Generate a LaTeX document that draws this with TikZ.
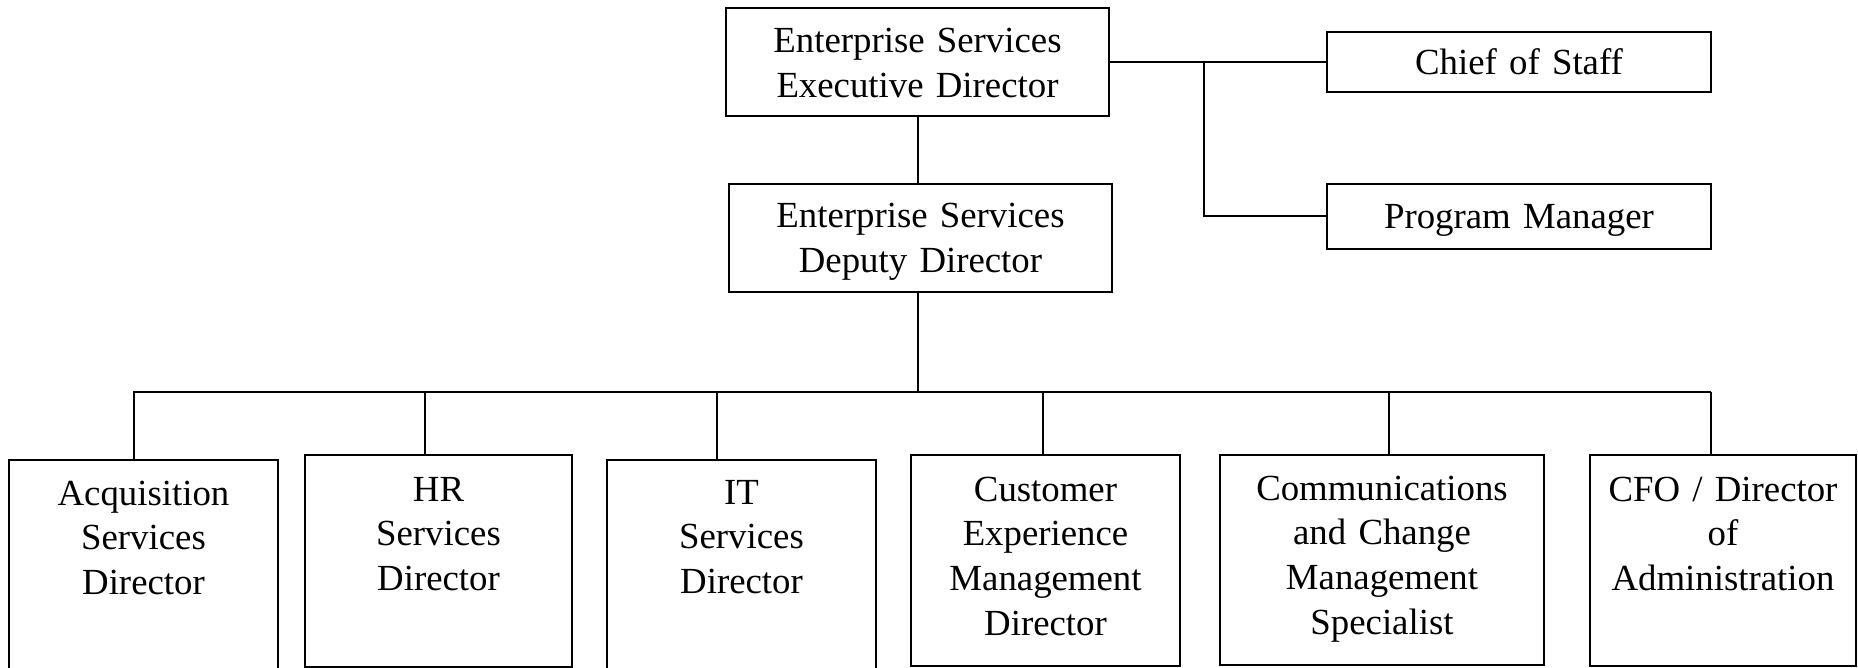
\documentclass[tikz,border=0pt]{standalone}
\usepackage{fontspec}
\setmainfont{Liberation Serif}
\begin{document}
\begin{tikzpicture}[x=0.5pt,y=-0.5pt]
\tikzset{
  box/.style={draw, line width=1pt, inner sep=0pt, outer sep=0pt, align=center,
    font=\fontsize{18.4}{22.4}\selectfont, anchor=north west},
  conn/.style={line width=1pt},
}
\useasboundingbox (0,0) rectangle (1858,668);
\clip (0,0) rectangle (1858,668);
% top
\node[box, text width=191.5pt, text height=22.5pt, text depth=31.5pt] (exec) at (726,8) {Enterprise Services\\Executive Director};
\node[box, text width=191.5pt, text height=22pt, text depth=32pt] (dep) at (729,184) {Enterprise Services\\Deputy Director};
\node[box, text width=192pt, text height=21.5pt, text depth=8.5pt] (chief) at (1327,32) {Chief of Staff};
\node[box, text width=192pt, text height=22.5pt, text depth=10pt] (pm) at (1327,184) {Program Manager};
% bottom
\node[box, text width=134.5pt, text height=22.5pt, text depth=90pt] (acq) at (9,460) {Acquisition\\Services\\Director};
\node[box, text width=133.5pt, text height=23pt, text depth=83pt] (hr) at (305,455) {HR\\Services\\Director};
\node[box, text width=134.5pt, text height=22pt, text depth=90pt] (it) at (607,460) {IT\\Services\\Director};
\node[box, text width=134.5pt, text height=23pt, text depth=82.5pt] (cx) at (911,455) {Customer\\Experience\\Management\\Director};
\node[box, text width=162pt, text height=22.5pt, text depth=82.5pt] (comm) at (1220,455) {Communications\\and Change\\Management\\Specialist};
\node[box, text width=133pt, text height=23pt, text depth=82.5pt] (cfo) at (1590,455) {CFO / Director\\of\\Administration};
% connectors
\draw[conn] (exec.south) -- (exec.south |- dep.north);
\draw[conn] (exec.east) -- (chief.west);
\coordinate (br) at (1204,62);
\draw[conn] (br) |- (pm.west);
\coordinate (bus) at (918,392);
\draw[conn] (bus |- dep.south) -- (bus);
\coordinate (busL) at (133,392);
\coordinate (busR) at (1711,392);
\draw[conn] (busL) -- (busR);
\coordinate (dA) at (134,392);
\coordinate (dH) at (425,392);
\coordinate (dI) at (717,392);
\coordinate (dC) at (1043,392);
\coordinate (dM) at (1389,392);
\coordinate (dF) at (1711,392);
\draw[conn] (dA) -- (dA |- acq.north);
\draw[conn] (dH) -- (dH |- hr.north);
\draw[conn] (dI) -- (dI |- it.north);
\draw[conn] (dC) -- (dC |- cx.north);
\draw[conn] (dM) -- (dM |- comm.north);
\draw[conn] (dF) -- (dF |- cfo.north);
\end{tikzpicture}
\end{document}
